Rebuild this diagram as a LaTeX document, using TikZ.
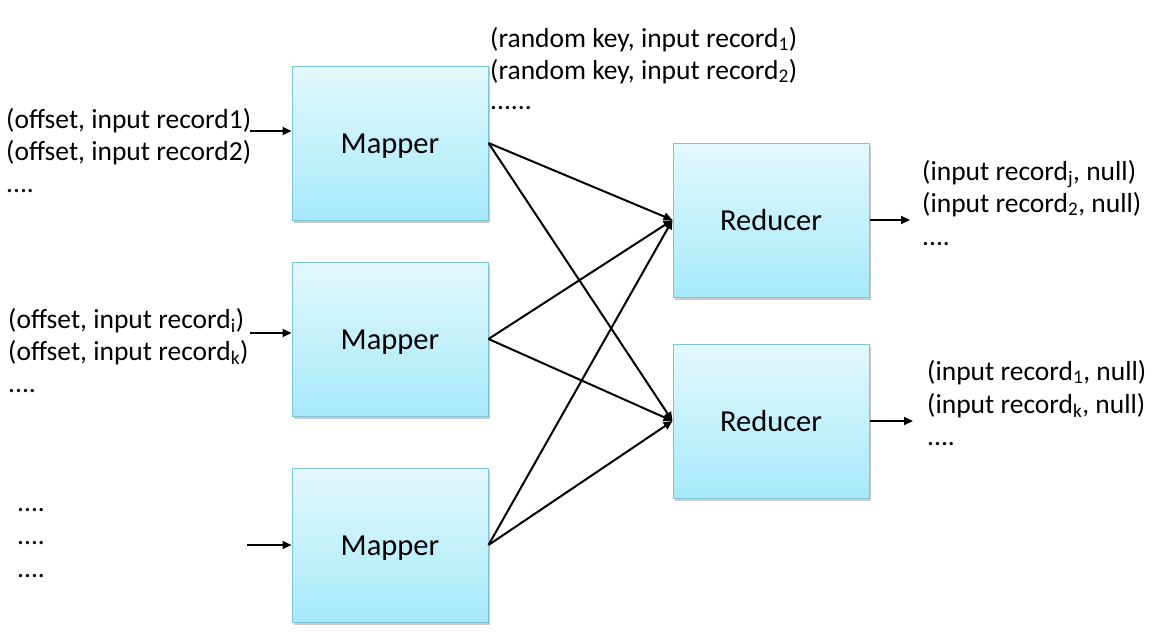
\documentclass[tikz,border=0pt]{standalone}
\usepackage{fontspec}
\setmainfont{Carlito}
\usetikzlibrary{arrows.meta,shadows}
\definecolor{boxtop}{HTML}{E2F8FD}
\definecolor{boxbot}{HTML}{A6E9F9}
\definecolor{boxline}{HTML}{7EC5DA}
\tikzset{
  box/.style={draw=boxline, line width=1pt, top color=boxtop, bottom color=boxbot,
    minimum width=196pt, minimum height=154pt, inner sep=0pt,
    text height=21pt, text depth=0pt,
    font=\fontsize{30.5}{33}\selectfont,
    drop shadow={shadow xshift=1.5pt, shadow yshift=-2.5pt, opacity=0.35, fill=black!60}},
  lbl/.style={anchor=base west, inner sep=0pt,
    font=\fontsize{27.5}{32}\selectfont},
  conn/.style={line width=2pt, -{Triangle[length=9pt,width=8pt]}},
}
\begin{document}
\begin{tikzpicture}[x=1pt,y=-1pt]
\useasboundingbox (0,0) rectangle (1152,632);
\node[box] (m1) at (390,143) {Mapper};
\node[box] (m2) at (390,339) {Mapper};
\node[box] (m3) at (390,545) {Mapper};
\node[box] (r1) at (771,220) {Reducer};
\node[box] (r2) at (771,421) {Reducer};

\node[lbl] (t1a) at (6,128) {(offset, input record1)};
\node[lbl] (t1b) at (6,160) {(offset, input record2)};
\node[lbl] (t1c) at (6,192) {....};
\node[lbl] (t2a) at (8,328) {(offset, input record\textsubscript{i})};
\node[lbl] (t2b) at (8,360) {(offset, input record\textsubscript{k})};
\node[lbl] (t2c) at (8,392) {....};
\node[lbl] (t3a) at (17,511) {....};
\node[lbl] (t3b) at (17,544) {....};
\node[lbl] (t3c) at (17,577) {....};
\node[lbl] (t4a) at (490,47) {(random key, input record\textsubscript{1})};
\node[lbl] (t4b) at (490,79) {(random key, input record\textsubscript{2})};
\node[lbl] (t4c) at (490,109) {......};
\node[lbl] (t5a) at (922,180) {(input record\textsubscript{j}, null)};
\node[lbl] (t5b) at (922,212) {(input record\textsubscript{2}, null)};
\node[lbl] (t5c) at (922,245) {....};
\node[lbl] (t6a) at (927,380) {(input record\textsubscript{1}, null)};
\node[lbl] (t6b) at (927,413) {(input record\textsubscript{k}, null)};
\node[lbl] (t6c) at (927,445) {....};

\coordinate (a1) at (250,131);
\coordinate (a2) at (250,333);
\coordinate (a3) at (247,545);
\coordinate (b1) at (910,220);
\coordinate (b2) at (913,421);
\draw[conn] (a1) -- (a1 -| m1.west);
\draw[conn] (a2) -- (a2 -| m2.west);
\draw[conn] (a3) -- (a3 -| m3.west);
\draw[conn] (r1.east) -- (b1);
\draw[conn] (r2.east) -- (b2);

\foreach \m in {m1,m2,m3}{
  \draw[conn] (\m.east) -- (r1.west);
  \draw[conn] (\m.east) -- (r2.west);
}
\end{tikzpicture}
\end{document}
